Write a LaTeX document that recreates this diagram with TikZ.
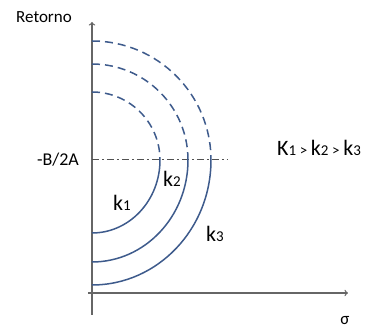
\documentclass[tikz,border=0pt]{standalone}
\usepackage{fontspec}
\setmainfont{Carlito}
\usetikzlibrary{positioning,calc}
\definecolor{curva}{HTML}{3E5B8C}
\definecolor{eixo}{HTML}{666666}
\tikzset{
  eixostyle/.style={draw=eixo, line width=1.3pt, ->},
  curvastyle/.style={draw=curva, line width=1.5pt},
  tracejado/.style={curvastyle, dash pattern=on 8pt off 5pt},
  centroline/.style={draw=eixo!80!black, line width=1pt, dash pattern=on 7pt off 3pt on 2pt off 3pt},
  rotulo/.style={inner sep=0pt, font=\fontsize{22}{24}\selectfont}
}
\newcommand{\sub}[1]{{\fontsize{15}{17}\selectfont #1}}
\begin{document}
\begin{tikzpicture}[x=1pt, y=1pt]
  \useasboundingbox (0,0) rectangle (368,331);

  % --- eixos ---
  \coordinate (O) at (92,171);
  \coordinate (ybase) at (92,16);
  \coordinate (ytop) at (92,309);
  \coordinate (xbase) at (88,38);
  \coordinate (xtop) at (348,38);
  \draw[eixostyle] (ybase) -- (ytop);
  \draw[eixostyle] (xbase) -- (xtop);
  \node[inner sep=0pt, font=\fontsize{17}{19}\selectfont] (ret) at (44,314) {Retorno};
  \node[inner sep=0pt, font=\fontsize{17}{19}\selectfont] (sig) at (345,10) {σ};

  % --- linha -B/2A ---
  \coordinate (cfim) at (228,171);
  \draw[centroline] (O) -- (cfim);
  \node[inner sep=0pt, font=\fontsize{18}{20}\selectfont, left=13pt of O] (b2a) {-B/2A};

  % --- semicirculos ---
  \foreach \r/\ry in {68/73, 96/102, 119/125}{
    \draw[tracejado] ($(O)+(0,\r)$) arc[start angle=90, end angle=0, radius=\r];
    \draw[curvastyle] ($(O)+(\r,0)$) arc[start angle=0, end angle=-90, x radius=\r, y radius=\ry];
  }

  % --- rotulos ---
  \node[rotulo] (k1) at (122,128) {k\sub{1}};
  \node[rotulo] (k2) at (172,152) {k\sub{2}};
  \node[rotulo] (k3) at (215,97) {k\sub{3}};
  \node[rotulo] (rel) at (319,183) {K\sub{1}\,\sub{>}\,k\sub{2}\,\sub{>}\,k\sub{3}};

\end{tikzpicture}
\end{document}
